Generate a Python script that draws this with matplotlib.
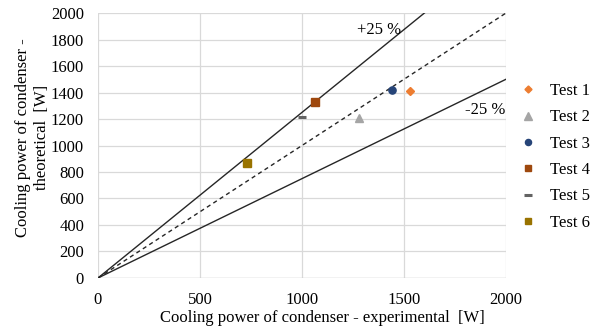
import matplotlib
matplotlib.use("Agg")
import matplotlib.pyplot as plt
import numpy as np

plt.rcParams['font.family'] = ['Liberation Serif', 'DejaVu Serif']

tests = ["Test 1", "Test 2", "Test 3", "Test 4", "Test 5", "Test 6"]
experimental = [1530, 1280, 1440, 1065, 1000, 730]
theoretical = [1410, 1210, 1420, 1330, 1215, 870]
markers = ["D", "^", "o", "s", "_", "s"]
colors = ["#ED7D31", "#A5A5A5", "#264478", "#9E480E", "#636363", "#997300"]
sizes = [4.2, 6.0, 5.2, 5.6, 6.0, 5.6]

x_ticks = [0, 500, 1000, 1500, 2000]
y_ticks = [0, 200, 400, 600, 800, 1000, 1200, 1400, 1600, 1800, 2000]
band = 0.25
fs = 12

fig = plt.figure(figsize=(5.95, 3.34), dpi=100)
ax = fig.add_axes([0.1647, 0.1677, 0.6857, 0.7933])

xs = np.array([0, 2000])
ax.plot(xs, xs * (1 + band), color="#262626", lw=1.0, zorder=2)
ax.plot(xs, xs * (1 - band), color="#262626", lw=1.0, zorder=2)
ax.plot(xs, xs, color="#262626", lw=1.0, ls=(0, (3, 2.5)), zorder=2)

for name, xv, yv, m, c, s in zip(tests, experimental, theoretical, markers, colors, sizes):
    kw = dict(marker=m, ms=s, color=c, ls="none", label=name, zorder=3)
    if m == "_":
        kw.update(markeredgewidth=2.2)
    ax.plot([xv], [yv], **kw)

ax.text(1380, 1815, "+25 %", fontsize=fs, ha="center", va="bottom")
ax.text(1995, 1205, "-25 %", fontsize=fs, ha="right", va="bottom")

ax.set_xlim(0, 2000)
ax.set_ylim(0, 2000)
ax.set_xticks(x_ticks)
ax.set_yticks(y_ticks)
ax.grid(True, color="#D9D9D9", lw=0.9)
ax.set_axisbelow(True)
for sp in ax.spines.values():
    sp.set_visible(False)
ax.axhline(0, color="#BFBFBF", lw=0.9, zorder=1)
ax.tick_params(axis="x", length=0, labelsize=fs, pad=10)
ax.tick_params(axis="y", length=0, labelsize=fs, pad=10)

ax.set_xlabel("Cooling power of condenser - experimental  [W]", fontsize=fs)
ax.xaxis.set_label_coords(0.549, -0.122, transform=ax.transAxes)
ax.set_ylabel("Cooling power of condenser -\ntheoretical  [W]", fontsize=fs)
ax.yaxis.set_label_coords(-0.118, 0.53, transform=ax.transAxes)

fig.legend(loc="center left", bbox_to_anchor=(0.849, 0.53), frameon=False,
           fontsize=fs, handlelength=1.0, handletextpad=0.8, labelspacing=0.62,
           markerscale=0.85)

fig.savefig("out.png", dpi=100)
